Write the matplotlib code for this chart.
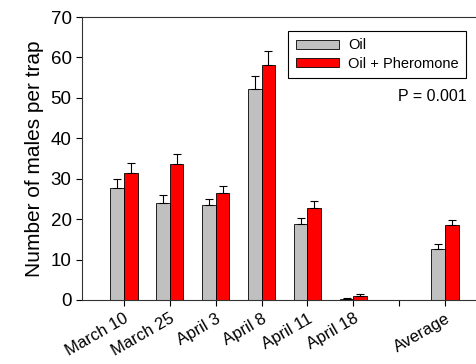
import numpy as np
import matplotlib.pyplot as plt

plt.rcParams["font.family"] = ["Liberation Sans", "DejaVu Sans"]

# Data
CATEGORIES = ["March 10", "March 25", "April 3", "April 8", "April 11", "April 18", "", "Average"]
OIL = [27.8, 24.0, 23.5, 52.2, 18.8, 0.3, np.nan, 12.7]
OIL_ERR = [2.2, 2.0, 1.6, 3.2, 1.5, 0.2, np.nan, 1.2]
PHEROMONE = [31.4, 33.6, 26.4, 58.2, 22.8, 1.0, np.nan, 18.6]
PHEROMONE_ERR = [2.5, 2.6, 1.9, 3.4, 1.7, 0.4, np.nan, 1.3]


def plot_chart():
    fig = plt.figure(figsize=(4.76, 3.64), dpi=100)
    ax = fig.add_axes([82 / 476, 64 / 364, 1 - 82 / 476, 283 / 364])

    x = np.arange(len(CATEGORIES))
    width = 0.3
    err_kw = dict(ecolor="black", capsize=3, elinewidth=0.8, capthick=0.8)
    ax.bar(x - width / 2, OIL, width, yerr=[np.zeros(len(OIL)), OIL_ERR],
           color="#c0c0c0", edgecolor="black", linewidth=0.6,
           error_kw=err_kw, label="Oil")
    ax.bar(x + width / 2, PHEROMONE, width, yerr=[np.zeros(len(PHEROMONE)), PHEROMONE_ERR],
           color="#ff0000", edgecolor="black", linewidth=0.6,
           error_kw=err_kw, label="Oil + Pheromone")

    ax.set_xlim(-0.91, 7.67)
    ax.set_ylim(0, 70)
    ax.set_yticks(range(0, 71, 10))
    ax.set_xticks(x)
    ax.set_xticklabels(CATEGORIES, rotation=30, ha="right", rotation_mode="anchor", fontsize=12)
    ax.tick_params(axis="y", labelsize=13.5, direction="out", length=4, width=0.8)
    ax.tick_params(axis="x", direction="out", length=4, width=0.8, pad=4)
    ax.spines["right"].set_visible(False)
    for s in ["left", "top", "bottom"]:
        ax.spines[s].set_linewidth(0.8)
        ax.spines[s].set_color("#333333")
    ax.set_ylabel("Number of males per trap", fontsize=15, labelpad=5)

    leg = ax.legend(loc="upper right", bbox_to_anchor=(0.993, 0.976), fontsize=10.5,
                    fancybox=False, edgecolor="black", framealpha=1,
                    handlelength=3.0, handleheight=0.6, borderpad=0.5,
                    labelspacing=0.3, handletextpad=0.6)
    leg.get_frame().set_linewidth(0.8)
    ax.text(0.975, 0.72, "P = 0.001", transform=ax.transAxes, ha="right",
            va="center", fontsize=11.5)

    plt.savefig("out.png", dpi=100)


if __name__ == "__main__":
    plot_chart()
